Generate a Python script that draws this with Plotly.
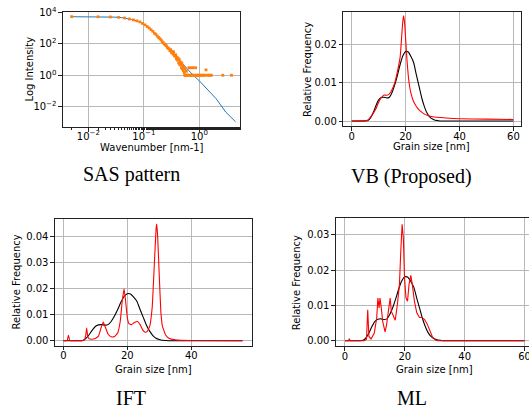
import plotly.graph_objects as go

W, H = 529, 407

# ---------------- data ----------------
# SAS pattern: fitted curve (blue) and measured points (orange)
sas_fit_q = [0.005, 0.01, 0.02, 0.03, 0.04, 0.05, 0.06, 0.08, 0.1, 0.13, 0.16, 0.2,
             0.25, 0.3, 0.4, 0.5, 0.7, 1.0, 1.5, 2.0, 3.0, 4.5]
sas_fit_I = [5250, 5240, 5150, 4950, 4600, 4000, 3500, 2650, 1750, 880, 430, 190,
             80, 40, 12.5, 5.3, 1.45, 0.44, 0.095, 0.033, 0.0045, 0.0011]

sas_q = [0.005, 0.015, 0.025, 0.035, 0.045, 0.055, 0.065, 0.075, 0.085, 0.095,
         0.105, 0.115, 0.125, 0.135, 0.145, 0.155, 0.165, 0.175, 0.185, 0.195,
         0.205, 0.215, 0.225, 0.235, 0.245, 0.255, 0.265, 0.275, 0.285, 0.295,
         0.305, 0.315, 0.325, 0.335, 0.345, 0.355, 0.365, 0.375, 0.385, 0.395,
         0.405, 0.415, 0.425, 0.435, 0.445, 0.455, 0.465, 0.475, 0.485, 0.495,
         0.505, 0.515, 0.525, 0.535, 0.545, 0.555, 0.565, 0.575, 0.585, 0.595,
         0.61, 0.63, 0.65, 0.67, 0.69, 0.71, 0.73, 0.75, 0.78, 0.80,
         0.83, 0.86, 0.90, 0.93, 0.96, 1.0, 1.05, 1.1, 1.15, 1.2,
         1.26, 1.32, 1.4, 1.48, 1.56, 1.65, 2.65, 3.8]
sas_I = [5300, 5200, 5050, 4800, 4350, 3750, 3300, 2850, 2450, 1950,
         1600, 1250, 1000, 780, 620, 470, 400, 310, 250, 210,
         175, 135, 115, 95, 85, 75, 58, 52, 48, 36,
         42, 28, 33, 22, 30, 18, 16, 20, 11, 14,
         9, 12, 6, 10, 4.5, 7, 5, 3, 6, 2.5,
         4, 2, 3, 1.5, 1, 2.6, 1, 1, 1.8, 1,
         1, 1, 3.0, 1, 1, 3.0, 1, 1, 3.0, 1,
         1, 3.0, 1, 1, 1, 1, 1, 1, 1, 1,
         1, 2.2, 1, 1, 1, 1, 1, 1]

sas_xtick_vals = [0.01, 0.1, 1]
sas_xtick_text = ["10<sup>−2</sup>", "10<sup>−1</sup>", "10<sup>0</sup>"]
sas_ytick_vals = [0.01, 1, 100, 10000]
sas_ytick_text = ["10<sup>−2</sup>", "10<sup>0</sup>", "10<sup>2</sup>", "10<sup>4</sup>"]

# true grain size distribution (black)
true_x = [0, 5, 6, 7, 8, 9, 10, 11, 12, 13, 14, 15, 16, 17, 18, 19, 20, 21, 22,
          23, 24, 25, 26, 27, 28, 29, 30, 31, 32, 33, 40, 50, 60]
true_y = [0, 0, 0.0001, 0.0008, 0.0022, 0.0040, 0.0055, 0.0061, 0.0062, 0.0060,
          0.0062, 0.0075, 0.0095, 0.0120, 0.0148, 0.0170, 0.0181, 0.0180, 0.0168,
          0.0152, 0.0120, 0.0090, 0.0060, 0.0037, 0.0020, 0.0010, 0.0005, 0.0002,
          0.0001, 0, 0, 0, 0]
true_x_ift = [0, 5, 6, 7, 8, 9, 10, 11, 12, 13, 14, 15, 16, 17, 18, 19, 20, 21, 22,
              23, 24, 25, 26, 27, 28, 29, 30, 31, 32, 33, 40, 50, 56]

# VB (proposed) estimate
vb_x = [0, 5, 6, 7, 8, 9, 10, 11, 12, 13, 14, 15, 16, 17, 18, 18.5, 19, 19.3,
        19.7, 20, 20.5, 21, 21.5, 22, 23, 24, 25, 26, 27, 28, 30, 35, 40, 50, 60]
vb_y = [0, 0.0001, 0.0003, 0.0010, 0.0020, 0.0032, 0.0049, 0.0061, 0.0068, 0.0067,
        0.0071, 0.0082, 0.0100, 0.0130, 0.0168, 0.0215, 0.0262, 0.0274,
        0.0250, 0.0215, 0.0160, 0.0118, 0.0090, 0.0072, 0.0050, 0.0038, 0.0029,
        0.0023, 0.0018, 0.0015, 0.0011, 0.0008, 0.0006, 0.0005, 0.0004]

# IFT estimate
ift_x = [0, 1.2, 1.6, 2.0, 3, 6.5, 7.0, 7.3, 7.6, 8.0, 9, 10, 11, 11.8, 12.5, 13.2,
         14, 15, 16, 17, 17.8, 18.4, 19.0, 19.5, 20.0, 20.5, 21.3, 22.2, 23.2, 24.0,
         24.8, 25.6, 26.2, 27.0, 27.8, 28.4, 29.0, 29.2, 29.5, 30.0, 30.5, 31.0,
         32, 33, 35, 40, 56]
ift_y = [0, 0.0001, 0.0021, 0.0001, 0, 0.0002, 0.0020, 0.0049, 0.0020, 0.0008,
         0.0006, 0.0009, 0.0018, 0.0050, 0.0072, 0.0050, 0.0025, 0.0015, 0.0016,
         0.0030, 0.0075, 0.0150, 0.0200, 0.0150, 0.0090, 0.0066, 0.0062, 0.0070,
         0.0074, 0.0062, 0.0042, 0.0033, 0.0035, 0.0055, 0.0130, 0.0280, 0.0430,
         0.0449, 0.0400, 0.0250, 0.0110, 0.0055, 0.0022, 0.0010, 0.0004, 0.0001, 0]

# ML estimate
ml_x = [0, 1.2, 1.45, 1.7, 6.5, 7.2, 7.6, 8.0, 8.7, 9.8, 10.6, 11.0, 11.4, 11.7,
        12.2, 12.6, 13.4, 13.9, 14.5, 15.1, 15.5, 16.2, 16.8, 17.5, 18.2, 18.7,
        19.1, 19.5, 19.9, 20.4, 20.9, 21.4, 22.0, 22.5, 23.2, 24.0, 24.9, 25.7,
        26.6, 27.5, 28.4, 29.3, 30.4, 31, 60]
ml_y = [0, 0, 0.0006, 0, 0, 0.0005, 0.0088, 0.0012, 0.0005, 0.0022, 0.0064, 0.0121,
        0.0093, 0.0121, 0.0088, 0.0055, 0.0025, 0.0045, 0.0083, 0.0121, 0.0083,
        0.0069, 0.0058, 0.0102, 0.0159, 0.0263, 0.0330, 0.0291, 0.0178, 0.0121,
        0.0112, 0.0159, 0.0185, 0.0159, 0.0112, 0.0079, 0.0066, 0.0066, 0.0060,
        0.0047, 0.0026, 0.0009, 0.0001, 0, 0]

captions = ["SAS pattern", "VB (Proposed)", "IFT", "ML"]
x_titles = ["Wavenumber [nm-1]", "Grain size [nm]", "Grain size [nm]", "Grain size [nm]"]
y_titles = ["Log Intensity", "Relative Frequency", "Relative Frequency", "Relative Frequency"]

# ---------------- figure ----------------
fig = go.Figure()

fig.add_trace(go.Scatter(x=sas_fit_q, y=sas_fit_I, mode="lines",
                         line=dict(color="#1f77b4", width=1), xaxis="x", yaxis="y"))
fig.add_trace(go.Scatter(x=sas_q, y=sas_I, mode="markers",
                         marker=dict(color="#ff7f0e", size=2.8, symbol="square", line=dict(width=0)),
                         xaxis="x", yaxis="y"))

blk = dict(color="black", width=1.1, shape="spline", smoothing=0.5)
fig.add_trace(go.Scatter(x=true_x, y=true_y, mode="lines", line=blk, xaxis="x2", yaxis="y2"))
fig.add_trace(go.Scatter(x=vb_x, y=vb_y, mode="lines",
                         line=dict(color="red", width=1.1, shape="spline", smoothing=0.4),
                         xaxis="x2", yaxis="y2"))

fig.add_trace(go.Scatter(x=true_x_ift, y=true_y, mode="lines", line=blk, xaxis="x3", yaxis="y3"))
fig.add_trace(go.Scatter(x=ift_x, y=ift_y, mode="lines",
                         line=dict(color="red", width=1.1, shape="spline", smoothing=0.3),
                         xaxis="x3", yaxis="y3"))

fig.add_trace(go.Scatter(x=true_x, y=true_y, mode="lines", line=blk, xaxis="x4", yaxis="y4"))
fig.add_trace(go.Scatter(x=ml_x, y=ml_y, mode="lines", line=dict(color="red", width=1.1),
                         xaxis="x4", yaxis="y4"))

tickfont = dict(family="DejaVu Sans", size=10, color="black")
titlefont = dict(family="DejaVu Sans", size=10, color="black")
common = dict(showline=True, linecolor="#222", linewidth=1.1, ticks="outside",
              ticklen=3.5, tickwidth=1, tickcolor="#222", showgrid=True,
              gridcolor="#b8b8b8", gridwidth=1, zeroline=False, tickfont=tickfont,
              automargin=False, ticklabeloverflow="allow")
xcommon = dict(common, ticklabelstandoff=-3)


def dom_x(a, b):
    return [a / W, min(b / W, 1.0)]


def dom_y(top, bottom):
    return [1 - bottom / H, 1 - top / H]


fig.update_layout(
    width=W, height=H, margin=dict(l=0, r=0, t=0, b=0, autoexpand=False),
    paper_bgcolor="white", plot_bgcolor="white", showlegend=False,
    xaxis=dict(common, ticklabelstandoff=-4, type="log", domain=dom_x(63, 240),
               range=[-2.456, 0.733],
               tickvals=sas_xtick_vals, ticktext=sas_xtick_text, anchor="y", mirror=True,
               minor=dict(ticks="outside", ticklen=2, tickcolor="#222", showgrid=False)),
    yaxis=dict(common, type="log", domain=dom_y(12, 127), range=[-3.29, 4.02],
               tickvals=sas_ytick_vals, ticktext=sas_ytick_text, anchor="x", mirror=True),
    xaxis2=dict(xcommon, domain=dom_x(343.3, 521), range=[-3.1, 62.8], dtick=20,
                anchor="y2", mirror=True),
    yaxis2=dict(common, domain=dom_y(11.7, 126), range=[-0.0013, 0.0285], dtick=0.01,
                tickformat=".2f", anchor="x2", mirror=True),
    xaxis3=dict(xcommon, domain=dom_x(55, 251.7), range=[-2.6, 58.9], dtick=20,
                anchor="y3", mirror=True),
    yaxis3=dict(common, domain=dom_y(219, 345.7), range=[-0.0019, 0.0468], dtick=0.01,
                tickformat=".2f", anchor="x3", mirror=True),
    xaxis4=dict(xcommon, domain=dom_x(336, 533.4), range=[-3.0, 61.5], dtick=20,
                anchor="y4", mirror=True),
    yaxis4=dict(common, domain=dom_y(218.3, 346), range=[-0.0015, 0.0347], dtick=0.01,
                tickformat=".2f", anchor="x4", mirror=False),
)

# axis titles placed as annotations (paper coords)
xt_pos = [(151.7, 147.5), (431.7, 146.7), (153.3, 369.3), (434.2, 369.3)]
yt_pos = [(28.5, 69), (308, 70), (16, 282.5), (296.7, 282.5)]
for text, (cx, cy) in zip(x_titles, xt_pos):
    fig.add_annotation(text=text, x=cx / W, y=1 - cy / H, xref="paper", yref="paper",
                       showarrow=False, xanchor="center", yanchor="middle", font=titlefont)
for text, (cx, cy) in zip(y_titles, yt_pos):
    fig.add_annotation(text=text, x=cx / W, y=1 - cy / H, xref="paper", yref="paper",
                       showarrow=False, xanchor="center", yanchor="middle", textangle=-90,
                       font=titlefont)

cap_pos = [(131.7, 175), (411.7, 176), (131, 398), (411.7, 398)]
for text, (cx, cy) in zip(captions, cap_pos):
    fig.add_annotation(text=text, x=cx / W, y=1 - cy / H, xref="paper", yref="paper",
                       showarrow=False, xanchor="center", yanchor="middle",
                       font=dict(family="Liberation Serif", size=20, color="black"))

fig.write_html("out.html", config={"displayModeBar": False},
               post_script="document.body.style.margin='0';document.body.style.overflow='hidden';")
